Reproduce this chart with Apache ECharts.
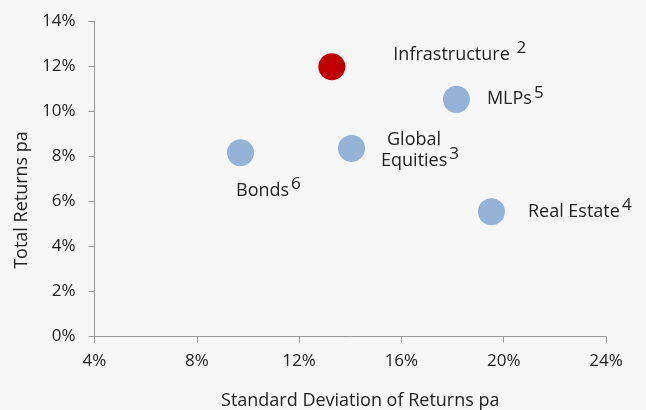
<!DOCTYPE html>
<html>
<head>
<meta charset="utf-8">
<script src="https://cdn.jsdelivr.net/npm/echarts@6/dist/echarts.min.js"></script>
<style>
  html, body { margin: 0; padding: 0; background: #f7f7f7; }
  #container { width: 646px; height: 410px; }
</style>
</head>
<body>
<div id="container"></div>
<script>
// asset classes, std dev (%) and total return (%)
var names = ['Infrastructure', 'MLPs', 'Global Equities', 'Real Estate', 'Bonds'];
var notes = ['2', '5', '3', '4', '6'];
var stdDev = [13.28, 18.15, 14.05, 19.52, 9.71];
var returns = [11.99, 10.54, 8.36, 5.55, 8.17];
var highlight = 'Infrastructure';

var xTicks = { min: 4, max: 24, interval: 4 };
var yTicks = { min: 0, max: 14, interval: 2 };

var fontFamily = '"Open Sans", sans-serif';

// label placement for each point (text pieces + offset)
var labelPos = {
    'Infrastructure': { offset: [48, -12], lines: ['Infrastructure '], align: 'left' },
    'MLPs': { offset: [17, 0], lines: ['MLPs'], align: 'left' },
    'Global Equities': { offset: [55, 6], lines: ['Global', 'Equities'], align: 'center' },
    'Real Estate': { offset: [23, 0], lines: ['Real Estate'], align: 'left' },
    'Bonds': { offset: [-18, 38], lines: ['Bonds'], align: 'left' }
};

function buildLabel(lines, note) {
    var out = [];
    for (var j = 0; j < lines.length; j++) {
        if (j == lines.length - 1) out.push('{t|' + lines[j] + '}{s|' + note + '}');
        else out.push('{g|' + lines[j] + '}');
    }
    return out.join('\n');
}

var data = [];
for (var i = 0; i < names.length; i++) {
    var lp = labelPos[names[i]];
    data.push({
        name: names[i],
        value: [stdDev[i], returns[i]],
        itemStyle: { color: names[i] == highlight ? '#c00000' : '#95b3d7', opacity: 1 },
        label: {
            show: true,
            position: 'right',
            distance: 0,
            offset: lp.offset,
            align: lp.align,
            formatter: buildLabel(lp.lines, notes[i])
        }
    });
}

var myChart = echarts.init(document.getElementById('container'));

var labelRich = {
    t: { fontSize: 18, color: '#222', fontFamily: fontFamily, lineHeight: 23 },
    g: { fontSize: 18, color: '#222', fontFamily: fontFamily, lineHeight: 13, padding: [0, 12, 0, 0] },
    s: { fontSize: 17, color: '#222', fontFamily: fontFamily, padding: [0, 0, 13, 2] }
};

var option = {
    backgroundColor: '#f7f7f7',
    animation: false,
    textStyle: { fontFamily: fontFamily },
    grid: { left: 94.5, right: 40, top: 21.5, bottom: 73.5, outerBoundsMode: 'none', containLabel: false },
    xAxis: {
        type: 'value',
        min: xTicks.min, max: xTicks.max, interval: xTicks.interval,
        name: 'Standard Deviation of Returns pa',
        nameLocation: 'middle',
        nameGap: 55,
        nameTextStyle: { fontSize: 18, color: '#222', padding: [0, 0, 0, 20] },
        axisLine: { show: true, lineStyle: { color: '#999', width: 1 } },
        axisTick: { show: true, length: 6, lineStyle: { color: '#999' } },
        axisLabel: { formatter: '{value}%', fontSize: 17, color: '#222', margin: 16 },
        splitLine: { show: false }
    },
    yAxis: {
        type: 'value',
        min: yTicks.min, max: yTicks.max, interval: yTicks.interval,
        name: 'Total Returns pa',
        nameLocation: 'middle',
        nameGap: 64,
        nameTextStyle: { fontSize: 18, color: '#222', padding: [0, 42, 0, 0] },
        axisLine: { show: true, lineStyle: { color: '#999', width: 1 } },
        axisTick: { show: true, length: 6, lineStyle: { color: '#999' } },
        axisLabel: { formatter: '{value}%', fontSize: 17, color: '#222', margin: 19 },
        splitLine: { show: false }
    },
    series: [
        {
            type: 'scatter',
            symbolSize: 27,
            data: data,
            itemStyle: { opacity: 1 },
            label: { rich: labelRich },
            emphasis: { disabled: true }
        }
    ]
};

myChart.setOption(option);
</script>
</body>
</html>
